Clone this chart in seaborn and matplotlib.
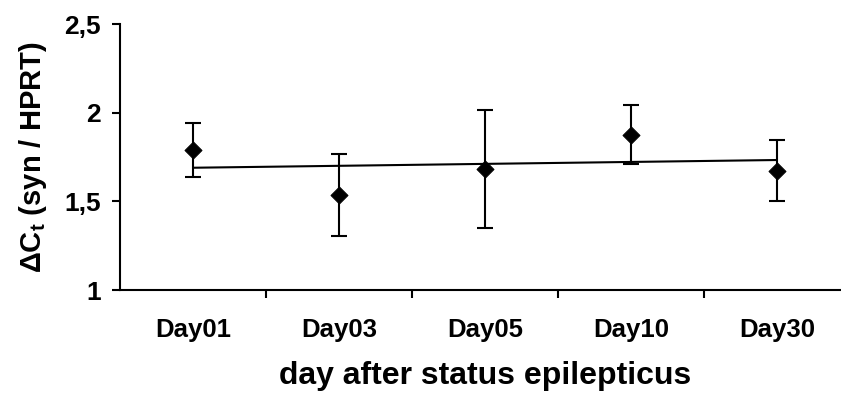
import numpy as np
import pandas as pd
import matplotlib
matplotlib.use("Agg")
import matplotlib.pyplot as plt
import seaborn as sns

categories = ["Day01", "Day03", "Day05", "Day10", "Day30"]
means = [1.787, 1.537, 1.684, 1.876, 1.672]
errors = [0.152, 0.230, 0.332, 0.168, 0.172]
yticks = [1, 1.5, 2, 2.5]
ytick_labels = ["1", "1,5", "2", "2,5"]

sns.set_theme(style="white")
plt.rcParams["font.family"] = ["Liberation Sans", "DejaVu Sans"]
plt.rcParams["mathtext.fontset"] = "custom"
plt.rcParams["mathtext.rm"] = "Liberation Sans:bold"
plt.rcParams["mathtext.it"] = "Liberation Sans:bold"
plt.rcParams["mathtext.bf"] = "Liberation Sans:bold"
plt.rcParams["text.color"] = "black"
plt.rcParams["axes.labelcolor"] = "black"
plt.rcParams["xtick.color"] = "black"
plt.rcParams["ytick.color"] = "black"

df = pd.DataFrame({"x": np.arange(len(categories)), "cat": categories,
                   "mean": means, "err": errors})

fig = plt.figure(figsize=(8.41, 3.94), dpi=100)
ax = fig.add_axes([120 / 841, 104 / 394, 730 / 841, 266 / 394])

LW = 1.5
ax.errorbar(df["x"], df["mean"], yerr=df["err"], fmt="none", ecolor="black",
            elinewidth=LW, capsize=5.5, capthick=LW, zorder=2)
sns.regplot(data=df, x="x", y="mean", scatter=False, ci=None, truncate=True,
            color="black", line_kws={"linewidth": LW}, ax=ax)
sns.scatterplot(data=df, x="x", y="mean", marker="D", color="black", s=75,
                edgecolor="black", zorder=3, ax=ax)

ax.set_xlim(-0.5, len(categories) - 0.5)
ax.set_ylim(1, 2.5)
ax.set_yticks(yticks)
ax.set_yticklabels(ytick_labels, fontsize=19, fontweight="bold")
ax.set_xticks(np.arange(len(categories)))
ax.set_xticklabels(categories, fontsize=18.5, fontweight="bold")
ax.set_xticks(np.arange(len(categories)) + 0.5, minor=True)
ax.tick_params(axis="x", which="major", length=0, pad=20)
ax.tick_params(axis="x", which="minor", length=6, width=LW, direction="out",
               color="black", bottom=True)
ax.tick_params(axis="y", length=6, width=LW, direction="out", color="black",
               left=True, pad=8)

for s in ["top", "right"]:
    ax.spines[s].set_visible(False)
for s in ["left", "bottom"]:
    ax.spines[s].set_color("black")
    ax.spines[s].set_linewidth(LW)

ax.set_xlabel("day after status epilepticus", fontsize=23, fontweight="bold",
              labelpad=14)
ax.set_ylabel(r"$\Delta$C$_{t}$ (syn / HPRT)", fontsize=21, fontweight="bold",
              labelpad=11)
ax.grid(False)

fig.savefig("out.png", dpi=100)
